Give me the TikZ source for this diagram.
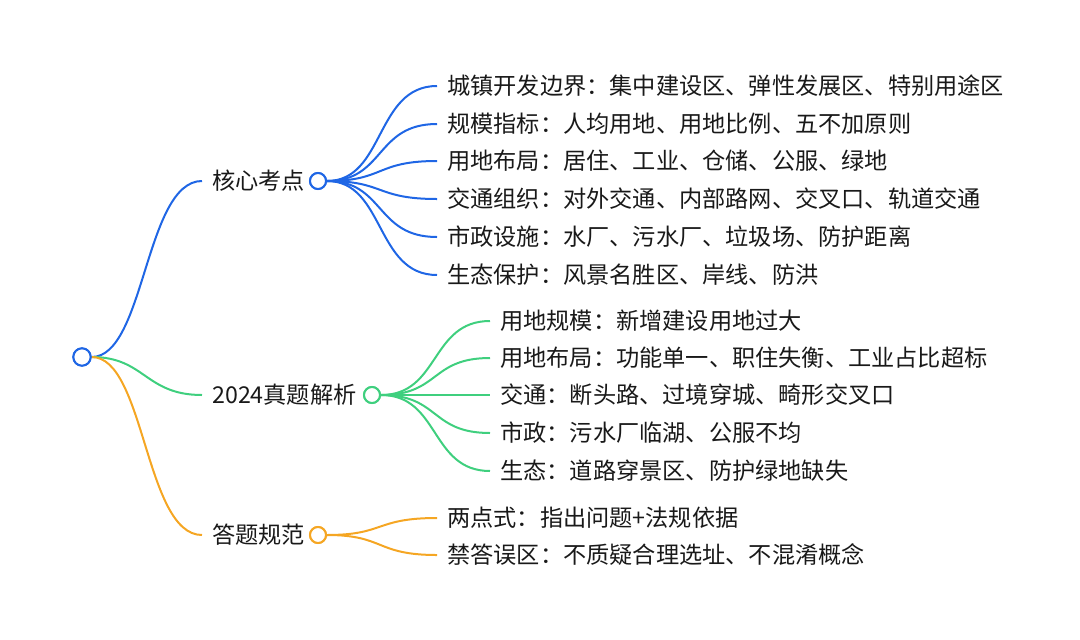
\documentclass[tikz,border=0pt]{standalone}
\usepackage{fontspec}
\setmainfont{Noto Sans CJK SC}
\definecolor{cb}{HTML}{1F66E5}
\definecolor{cg}{HTML}{3FCF7E}
\definecolor{co}{HTML}{F5A623}
\begin{document}
\begin{tikzpicture}[x=0.75pt,y=-0.75pt,
  lbl/.style={anchor=west,inner sep=0pt,font=\fontsize{17.4}{20}\selectfont,text=black!90},
  dot/.style={circle,draw=#1,fill=white,line width=1.5pt,minimum size=12pt,inner sep=0pt},
  conn/.style={draw=#1,line width=1.5pt}]
\useasboundingbox (0,0) rectangle (1080,639);
\node[dot=cb,minimum size=13pt] (root) at (82,357) {};
\node[lbl] (b1) at (212,181) {核心考点};
\node[dot=cb] (c1) at (318,181) {};
\node[lbl] (b2) at (212,395) {2024真题解析};
\node[dot=cg] (c2) at (372,395) {};
\node[lbl] (b3) at (212,535) {答题规范};
\node[dot=co] (c3) at (318,535) {};
\foreach \n/\y/\c in {b1/181/cb,b2/395/cg,b3/535/co}{
  \coordinate (e\n) at (202,\y);
  \draw[conn=\c] (root.east) .. controls (145,357) and (145,\y) .. (e\n);
}
\foreach \i/\y/\t in {1/86/城镇开发边界：集中建设区、弹性发展区、特别用途区,2/124/规模指标：人均用地、用地比例、五不加原则,3/161/用地布局：居住、工业、仓储、公服、绿地,4/199/交通组织：对外交通、内部路网、交叉口、轨道交通,5/237/市政设施：水厂、污水厂、垃圾场、防护距离,6/275/生态保护：风景名胜区、岸线、防洪}{
  \node[lbl] (a\i) at (447,\y) {\t};
  \coordinate (ae\i) at (437,\y);
  \draw[conn=cb] (c1.east) .. controls (385,181) and (375,\y) .. (ae\i);
}
\foreach \i/\y/\t in {1/321/用地规模：新增建设用地过大,2/358/用地布局：功能单一、职住失衡、工业占比超标,3/395/交通：断头路、过境穿城、畸形交叉口,4/433/市政：污水厂临湖、公服不均,5/471/生态：道路穿景区、防护绿地缺失}{
  \node[lbl] (g\i) at (500,\y) {\t};
  \coordinate (ge\i) at (490,\y);
  \draw[conn=cg] (c2.east) .. controls (440,395) and (430,\y) .. (ge\i);
}
\foreach \i/\y/\t in {1/518/两点式：指出问题+法规依据,2/555/禁答误区：不质疑合理选址、不混淆概念}{
  \node[lbl] (o\i) at (447,\y) {\t};
  \coordinate (oe\i) at (437,\y);
  \draw[conn=co] (c3.east) .. controls (385,535) and (375,\y) .. (oe\i);
}
\node[dot=cb,minimum size=13pt] at (root) {};
\node[dot=cb] at (c1) {};
\node[dot=cg] at (c2) {};
\node[dot=co] at (c3) {};
\end{tikzpicture}
\end{document}
